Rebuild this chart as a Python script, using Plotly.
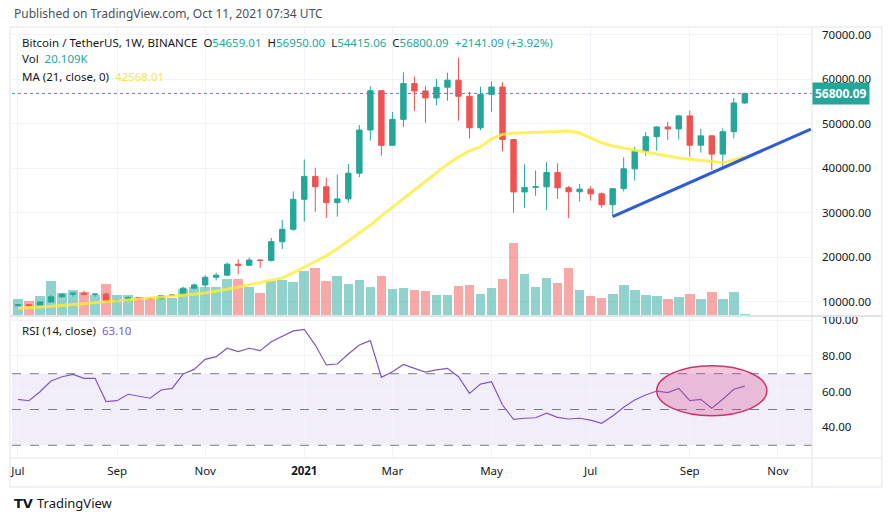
import pandas as pd
import plotly.graph_objects as go

# ---------------- data ----------------
dates = pd.date_range("2020-07-06", periods=67, freq="7D")

opens = [9069, 9303, 9160, 9930, 11100, 11680, 11910, 11650, 11710, 10250,
         10330, 10930, 10770, 10670, 11380, 11500, 13030, 13760, 15480, 15960,
         18420, 18180, 19360, 19270, 23480, 26270, 33000, 38150, 35830, 32260,
         33100, 38870, 48580, 57410, 45140, 50970, 59020, 57350, 55780, 58200,
         59770, 56150, 49070, 56580, 58240, 46430, 34660, 35680, 35800, 39020,
         35600, 34700, 35290, 34240, 31780, 35400, 39850, 43830, 47080, 49250,
         48830, 51750, 45160, 47260, 43160, 48200, 54659.01]
highs = [9470, 9375, 9990, 11450, 11900, 12070, 12490, 11800, 12090, 10600,
         11180, 10990, 10950, 11490, 11740, 13350, 14100, 15960, 16480, 18800,
         19500, 19920, 19420, 24300, 28400, 34800, 41950, 40100, 37850, 38530,
         40950, 49700, 58350, 57530, 52640, 61550, 60560, 58420, 60040, 61450,
         64854, 57190, 58300, 59430, 59300, 46600, 40850, 39480, 41330, 41100,
         36000, 36450, 35950, 34600, 35400, 42450, 44800, 48150, 49400, 50400,
         52000, 52920, 48870, 47350, 48960, 55750, 56950.00]
lows = [9045, 9005, 9100, 9900, 10960, 11100, 11520, 11100, 9875, 9850,
        10200, 10140, 10370, 10530, 11220, 11400, 12900, 13200, 14800, 15780,
        16200, 18100, 17600, 19000, 21800, 25900, 28000, 30200, 28800, 29100,
        32300, 37990, 46200, 42800, 44950, 49200, 52850, 50200, 54100, 55160,
        50670, 46700, 48580, 52700, 43800, 30000, 31110, 33800, 30600, 33080,
        28800, 32470, 32700, 31100, 29280, 34800, 37200, 42800, 43950, 46300,
        46500, 42580, 43500, 39600, 40300, 46700, 54415.06]
closes = [9303, 9160, 9930, 11100, 11680, 11910, 11650, 11710, 10250, 10330,
          10930, 10770, 10670, 11380, 11500, 13030, 13760, 15480, 15960, 18420,
          18180, 19360, 19270, 23480, 26270, 33000, 38150, 35830, 32260, 33100,
          38870, 48580, 57410, 45140, 50970, 59020, 57350, 55780, 58200, 59770,
          56150, 49070, 56580, 58240, 46430, 34660, 35680, 35800, 39020, 35600,
          34700, 35290, 34240, 31780, 35400, 39850, 43830, 47080, 49250, 48830,
          51750, 45160, 47260, 43160, 48200, 54659.00, 56800.09]
volumes_k = [228, 196, 266, 476, 304, 346, 322, 276, 438, 280,
             276, 252, 234, 252, 234, 368, 396, 392, 392, 504,
             504, 392, 312, 476, 490, 466, 616, 662, 476, 546,
             438, 490, 392, 546, 368, 382, 354, 340, 280, 280,
             402, 420, 298, 378, 504, 1008, 578, 392, 518, 448,
             654, 350, 266, 238, 298, 420, 350, 280, 262, 224,
             252, 294, 224, 322, 224, 322, 20.109]
ma21 = [8500, 8600, 8750, 8950, 9150, 9350, 9550, 9750, 9950, 10100,
        10300, 10500, 10700, 10950, 11150, 11350, 11650, 11950, 12350, 12800,
        13250, 13800, 14300, 14750, 15300, 16500, 17800, 19000, 20300, 21900,
        23600, 25300, 27200, 29300, 31300, 33200, 35100, 37000, 39000, 40900,
        42500, 43900, 44800, 46600, 47600, 47900, 47950, 48000, 48100, 48250,
        48350, 47900, 46800, 45700, 45000, 44500, 44000, 43600, 43200, 42700,
        42300, 42000, 41800, 41500, 41200, 41900, 42568.01]
rsi14 = [55.7, 54.9, 59.9, 65.9, 68.3, 69.6, 67.4, 67.4, 54.4, 54.9,
         58.5, 57.5, 56.3, 60.9, 61.8, 69.8, 72.4, 78.0, 79.5, 84.2,
         82.3, 84.2, 82.9, 87.9, 90.7, 93.9, 94.8, 86.0, 74.9, 75.4,
         81.0, 86.0, 88.5, 68.0, 71.1, 75.2, 73.0, 70.9, 72.1, 73.0,
         68.3, 59.0, 64.2, 65.5, 52.5, 44.5, 45.1, 45.4, 47.9, 45.6,
         44.7, 45.1, 44.1, 42.3, 46.4, 51.2, 55.3, 58.1, 60.3, 59.4,
         61.8, 54.9, 55.7, 50.7, 55.7, 61.3, 63.1]

tick_dates = ["2020-07-06", "2020-09-07", "2020-11-02", "2021-01-04", "2021-03-01",
              "2021-05-03", "2021-07-05", "2021-09-06", "2021-11-01"]
tick_labels = ["Jul", "Sep", "Nov", "<b>2021</b>", "Mar", "May", "Jul", "Sep", "Nov"]
price_ticks = [10000, 20000, 30000, 40000, 50000, 60000, 70000]
rsi_ticks = [40, 60, 80, 100]

# trend line (drawing) and highlighted RSI zone
trend_start = ("2021-07-19", 29100)
trend_end = ("2021-11-22", 48800)
zone_x = ("2021-08-16", "2021-10-25")
zone_y = (46.5, 74.5)

# ---------------- styles ----------------
UP = "#26a69a"
DN = "#ef5350"
UP_VOL = "rgba(38,166,154,0.5)"
DN_VOL = "rgba(239,83,80,0.5)"
FONT = "Noto Sans"
TXT = "#131722"
GRID = "#f0f3fa"
BORDER = "#e0e3eb"

vol_colors = [UP_VOL if c >= o else DN_VOL for o, c in zip(opens, closes)]

week = pd.Timedelta(days=7)
x_range = [dates[0] - 0.54 * week, dates[0] + 72.1 * week]

fig = go.Figure()

fig.add_trace(go.Bar(x=dates, y=volumes_k, marker=dict(color=vol_colors, line=dict(width=0)),
                     width=7 * 86400000 * 0.88, xaxis="x", yaxis="y", hoverinfo="skip"))
fig.add_trace(go.Scatter(x=dates, y=ma21, mode="lines", xaxis="x", yaxis="y2",
                         line=dict(color="rgba(255,235,59,0.8)", width=3)))
fig.add_trace(go.Candlestick(x=dates, open=opens, high=highs, low=lows, close=closes,
                             xaxis="x", yaxis="y2", whiskerwidth=0,
                             increasing=dict(line=dict(color=UP, width=1), fillcolor=UP),
                             decreasing=dict(line=dict(color=DN, width=1), fillcolor=DN)))
fig.add_trace(go.Scatter(x=dates, y=rsi14, mode="lines", xaxis="x2", yaxis="y3",
                         line=dict(color="#7e57c2", width=1.2)))

main_dom = [0.3326, 1.0]
rsi_dom = [0.0, 0.328]
vmax = max(volumes_k)

fig.update_layout(
    width=892, height=521,
    margin=dict(l=10, r=80, t=28, b=63),
    paper_bgcolor="white", plot_bgcolor="white",
    showlegend=False,
    font=dict(family=FONT, size=11, color=TXT),
    bargap=0,
    xaxis=dict(domain=[0, 1], anchor="y", type="date", range=x_range,
               tickvals=tick_dates, ticktext=tick_labels, showticklabels=False,
               showgrid=True, gridcolor=GRID, zeroline=False,
               rangeslider=dict(visible=False), fixedrange=True),
    xaxis2=dict(domain=[0, 1], anchor="y3", type="date", range=x_range, matches="x",
                tickvals=tick_dates, ticktext=tick_labels, showticklabels=True,
                showgrid=True, gridcolor=GRID, zeroline=False, ticks="",
                tickfont=dict(size=11.5, color=TXT), ticklabelstandoff=4),
    yaxis=dict(domain=main_dom, anchor="x", range=[0, vmax / 0.251],
               visible=False, showgrid=False),
    yaxis2=dict(overlaying="y", anchor="x", side="right", range=[7010, 71500],
                tickvals=price_ticks, tickformat=".2f", showgrid=True,
                gridcolor=GRID, zeroline=False, ticks="", ticklabelstandoff=9,
                tickfont=dict(size=11.5, color=TXT)),
    yaxis3=dict(domain=rsi_dom, anchor="x2", side="right", range=[22.9, 101.7],
                tickvals=rsi_ticks, tickformat=".2f", showgrid=True,
                gridcolor=GRID, zeroline=False, ticks="", ticklabelstandoff=9,
                tickfont=dict(size=11.5, color=TXT)),
)

shapes = []
# RSI band and levels
shapes.append(dict(type="rect", xref="x2 domain", yref="y3", x0=0, x1=1, y0=30, y1=70,
                   fillcolor="rgba(126,87,194,0.1)", line=dict(width=0), layer="below"))
for lvl in (70, 50, 30):
    shapes.append(dict(type="line", xref="x2 domain", yref="y3", x0=0, x1=1, y0=lvl, y1=lvl,
                       line=dict(color="#787b86", width=1, dash="dash")))
# last price dotted line
shapes.append(dict(type="line", xref="x domain", yref="y2", x0=0, x1=1,
                   y0=closes[-1], y1=closes[-1], line=dict(color=UP, width=1, dash="dot")))
# trend line
shapes.append(dict(type="line", xref="x", yref="y2", x0=trend_start[0], y0=trend_start[1],
                   x1=trend_end[0], y1=trend_end[1], line=dict(color="#2f5bd6", width=3)))
# highlighted RSI zone
shapes.append(dict(type="circle", xref="x2", yref="y3", x0=zone_x[0], x1=zone_x[1],
                   y0=zone_y[0], y1=zone_y[1], fillcolor="rgba(214,70,140,0.3)",
                   line=dict(color="#c9346f", width=1.5)))
# frame and separators
shapes.append(dict(type="rect", xref="paper", yref="paper", x0=-0.0025, x1=1.0873,
                   y0=-0.0674, y1=1.0023, line=dict(color=BORDER, width=1)))
shapes.append(dict(type="line", xref="paper", yref="paper", x0=-0.0025, x1=1.0873,
                   y0=0, y1=0, line=dict(color=BORDER, width=1)))
shapes.append(dict(type="line", xref="paper", yref="paper", x0=-0.0025, x1=1.0873,
                   y0=0.3302, y1=0.3302, line=dict(color=BORDER, width=2)))
shapes.append(dict(type="line", xref="paper", yref="paper", x0=1, x1=1,
                   y0=-0.0674, y1=1.0023, line=dict(color=BORDER, width=1)))
fig.update_layout(shapes=shapes)

val = lambda t, c: f"<span style='color:{c}'>{t}</span>"
chg = closes[-1] - closes[-2]
pct = chg / closes[-2] * 100
header = ("Bitcoin / TetherUS, 1W, BINANCE  "
          "O" + val(f"{opens[-1]:.2f}", UP) + "  H" + val(f"{highs[-1]:.2f}", UP) +
          "  L" + val(f"{lows[-1]:.2f}", UP) + "  C" + val(f"{closes[-1]:.2f}", UP) +
          "  " + val(f"+{chg:.2f} (+{pct:.2f}%)", UP))

ann = [
    dict(text="Published on TradingView.com, Oct 11, 2021 07:34 UTC", x=0, y=1.0326,
         font=dict(size=12, color="#4a4e5a")),
    dict(text=header, x=0.01, y=(458 - 42) / 430, font=dict(size=11.5, color=TXT)),
    dict(text="Vol  " + val(f"{volumes_k[-1]:.3f}K", UP), x=0.01, y=(458 - 59) / 430,
         font=dict(size=11.5, color=TXT)),
    dict(text="MA (21, close, 0)  " + val(f"{ma21[-1]:.2f}", "#f2e35a"), x=0.01,
         y=(458 - 76) / 430, font=dict(size=11.5, color=TXT)),
    dict(text="RSI (14, close)  " + val(f"{rsi14[-1]:.2f}", "#7e57c2"), x=0.01,
         y=(458 - 330) / 430, font=dict(size=11.5, color=TXT)),
    dict(text="<b>TV</b>", x=0.0, y=(458 - 503) / 430, font=dict(size=13, color="#131722",
         family="DejaVu Sans")),
    dict(text="TradingView", x=0.029, y=(458 - 503) / 430, font=dict(size=13, color="#131722")),
]
annotations = []
for a in ann:
    a.update(dict(xref="paper", yref="paper", xanchor="left", yanchor="middle",
                  showarrow=False))
    annotations.append(a)
annotations.append(dict(text="<b>" + f"{closes[-1]:.2f}" + "</b>", xref="paper", yref="y2",
                        x=1.0, y=closes[-1], xanchor="left", yanchor="middle",
                        showarrow=False, bgcolor=UP, borderpad=2,
                        font=dict(size=12, color="white")))
fig.update_layout(annotations=annotations)

fig.write_html("out.html", config={"displayModeBar": False},
               post_script="document.body.style.margin='0px';")
